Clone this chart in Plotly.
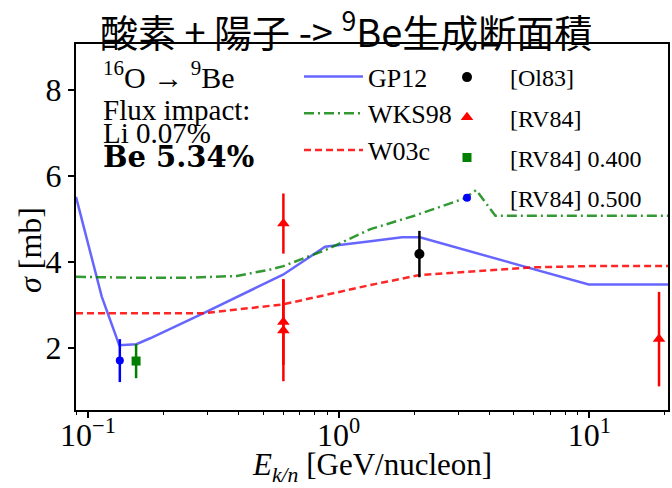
import plotly.graph_objects as go
import numpy as np

# ---- data ----
gp12_E = [0.0896, 0.1135, 0.1333, 0.156, 0.177, 0.288, 0.60, 0.883, 1.34, 1.79, 2.11, 9.94, 20.6]
gp12_s = [5.51, 3.19, 2.06, 2.08, 2.22, 2.80, 3.70, 4.35, 4.48, 4.57, 4.57, 3.47, 3.47]

wks_E = [0.0896, 0.15, 0.25, 0.393, 0.533, 0.602, 0.883, 1.34, 2.05, 3.15, 3.54, 4.22, 20.6]
wks_s = [3.65, 3.63, 3.63, 3.67, 3.82, 3.90, 4.27, 4.76, 5.09, 5.47, 5.67, 5.07, 5.07]

w03_E = [0.0896, 0.15, 0.288, 0.602, 0.883, 1.34, 2.10, 5.90, 9.94, 20.6]
w03_s = [2.80, 2.80, 2.80, 3.01, 3.23, 3.46, 3.69, 3.87, 3.90, 3.90]

ol83_E = [2.10]
ol83_s = [4.18]
ol83_err = [0.54]

rv84_E = [0.602, 0.602, 0.602, 18.97]
rv84_s = [4.89, 2.60, 2.40, 2.20]
rv84_err = [0.70, 1.00, 1.18, 1.10]

rv84_04_E = [0.1556]
rv84_04_s = [1.69]
rv84_04_err = [0.40]

rv84_05_E = [0.134]
rv84_05_s = [1.70]
rv84_05_err = [0.50]

xtick_vals = [0.1, 1, 10]
xtick_text = ["10<sup>\u22121</sup>", "10<sup>0</sup>", "10<sup>1</sup>"]
xminor_vals = [v * m for v in [0.01, 0.1, 1, 10] for m in range(2, 10)]
ytick_vals = [2, 4, 6, 8]

SERIF = "Liberation Serif"

# plot area in page pixels: x 76..668, y 44..410
def X(px):
    return (px - 76) / 592

def Y(py):
    return (410 - py) / 366

fig = go.Figure()

fig.add_trace(go.Scatter(x=gp12_E, y=gp12_s, mode="lines", name="GP12",
                         line=dict(color="rgba(0,0,255,0.6)", width=2.5),
                         legend="legend", legendgroup="a"))
fig.add_trace(go.Scatter(x=wks_E, y=wks_s, mode="lines", name="WKS98",
                         line=dict(color="rgba(0,128,0,0.8)", width=2.5, dash="10px,4px,2px,4px"),
                         legend="legend", legendgroup="b"))
fig.add_trace(go.Scatter(x=w03_E, y=w03_s, mode="lines", name="W03c",
                         line=dict(color="rgba(255,0,0,0.85)", width=2.5, dash="7px,4px"),
                         legend="legend", legendgroup="c"))

def pts(x, y, err, name, color, symbol, size, grp):
    fig.add_trace(go.Scatter(x=x, y=y, mode="markers", name=name,
                             marker=dict(color=color, symbol=symbol, size=size),
                             error_y=dict(type="data", array=err, visible=True,
                                          color=color, thickness=2.5, width=0),
                             legend="legend2", legendgroup=grp))

pts(ol83_E, ol83_s, ol83_err, "[Ol83]", "black", "circle", 10, "d")
pts(rv84_E, rv84_s, rv84_err, "[RV84]", "red", "triangle-up", 11, "e")
pts(rv84_04_E, rv84_04_s, rv84_04_err, "[RV84] 0.400", "green", "square", 9, "f")
pts(rv84_05_E, rv84_05_s, rv84_05_err, "[RV84] 0.500", "blue", "circle", 8, "g")

xrange = [np.log10(0.0896), np.log10(20.6)]
tickfont = dict(family=SERIF, size=32, color="black")

fig.update_layout(
    xaxis=dict(type="log", range=xrange, tickvals=xtick_vals, ticktext=xtick_text,
               showline=True, mirror=True, linecolor="black", linewidth=2,
               ticks="outside", ticklen=6, tickwidth=1.5, tickcolor="black",
               showgrid=False, zeroline=False, automargin=False,
               tickfont=tickfont, ticklabelstandoff=-10),
    xaxis2=dict(type="log", range=xrange, overlaying="x", anchor="y", side="bottom",
                tickvals=xminor_vals, ticks="outside", ticklen=3.5, tickwidth=1,
                tickcolor="black", showticklabels=False, showgrid=False,
                zeroline=False, showline=False, automargin=False),
    yaxis=dict(range=[0.55, 9.07], tickvals=ytick_vals,
               showline=True, mirror=True, linecolor="black", linewidth=2,
               ticks="outside", ticklen=6, tickwidth=1.5, tickcolor="black",
               showgrid=False, zeroline=False, automargin=False, tickfont=tickfont),
)
# invisible helper trace so the minor-tick axis is drawn
fig.add_trace(go.Scatter(x=[1], y=[None], xaxis="x2", yaxis="y", showlegend=False,
                         hoverinfo="skip", mode="markers"))

leg_common = dict(bgcolor="rgba(0,0,0,0)", traceorder="grouped", xanchor="left", yanchor="top")
fig.update_layout(
    legend=dict(x=X(299), y=Y(53), itemwidth=59, tracegroupgap=0,
                font=dict(family=SERIF, size=26, color="black"), **leg_common),
    legend2=dict(x=X(424), y=Y(55), itemwidth=76, tracegroupgap=6,
                 font=dict(family=SERIF, size=24, color="black"), **leg_common),
)

texts = [("<sup>16</sup>O \u2192 <sup>9</sup>Be", 75, dict(family=SERIF, size=30, color="black")),
         ("Flux impact:", 110, dict(family=SERIF, size=29, color="black")),
         ("Li 0.07%", 133, dict(family=SERIF, size=29, color="black")),
         ("<b>Be 5.34%</b>", 157, dict(family="DejaVu Serif", size=29, color="black"))]
for t, yc, f in texts:
    fig.add_annotation(text=t, xref="paper", yref="paper", x=X(101), y=Y(yc),
                       xanchor="left", yanchor="middle", showarrow=False, font=f)

# axis titles
fig.add_annotation(text="<i>E</i><sub><i>k/n</i></sub> [GeV/nucleon]", xref="paper", yref="paper",
                   x=X(372), y=Y(467), xanchor="center", yanchor="middle",
                   showarrow=False, font=dict(family=SERIF, size=31, color="black"))
fig.add_annotation(text="<i>σ</i> [mb]", xref="paper", yref="paper", textangle=-90,
                   x=X(30), y=Y(250), xanchor="center", yanchor="middle",
                   showarrow=False, font=dict(family=SERIF, size=32, color="black"))

fig.add_annotation(text="酸素 + 陽子 -> <sup>9</sup>Be生成断面積", xref="paper", yref="paper",
                   x=X(346), y=Y(28.5), xanchor="center", yanchor="middle", showarrow=False,
                   font=dict(family="Noto Sans CJK JP", size=38, color="black"))

fig.update_layout(width=672, height=488, margin=dict(l=76, r=4, t=44, b=78),
                  plot_bgcolor="white", paper_bgcolor="white", showlegend=True)

# remove the default 8px page margin so the figure fills the 672x488 window
fig.write_html("out.html", config={"displayModeBar": False},
               post_script="document.body.style.margin='0px';")
